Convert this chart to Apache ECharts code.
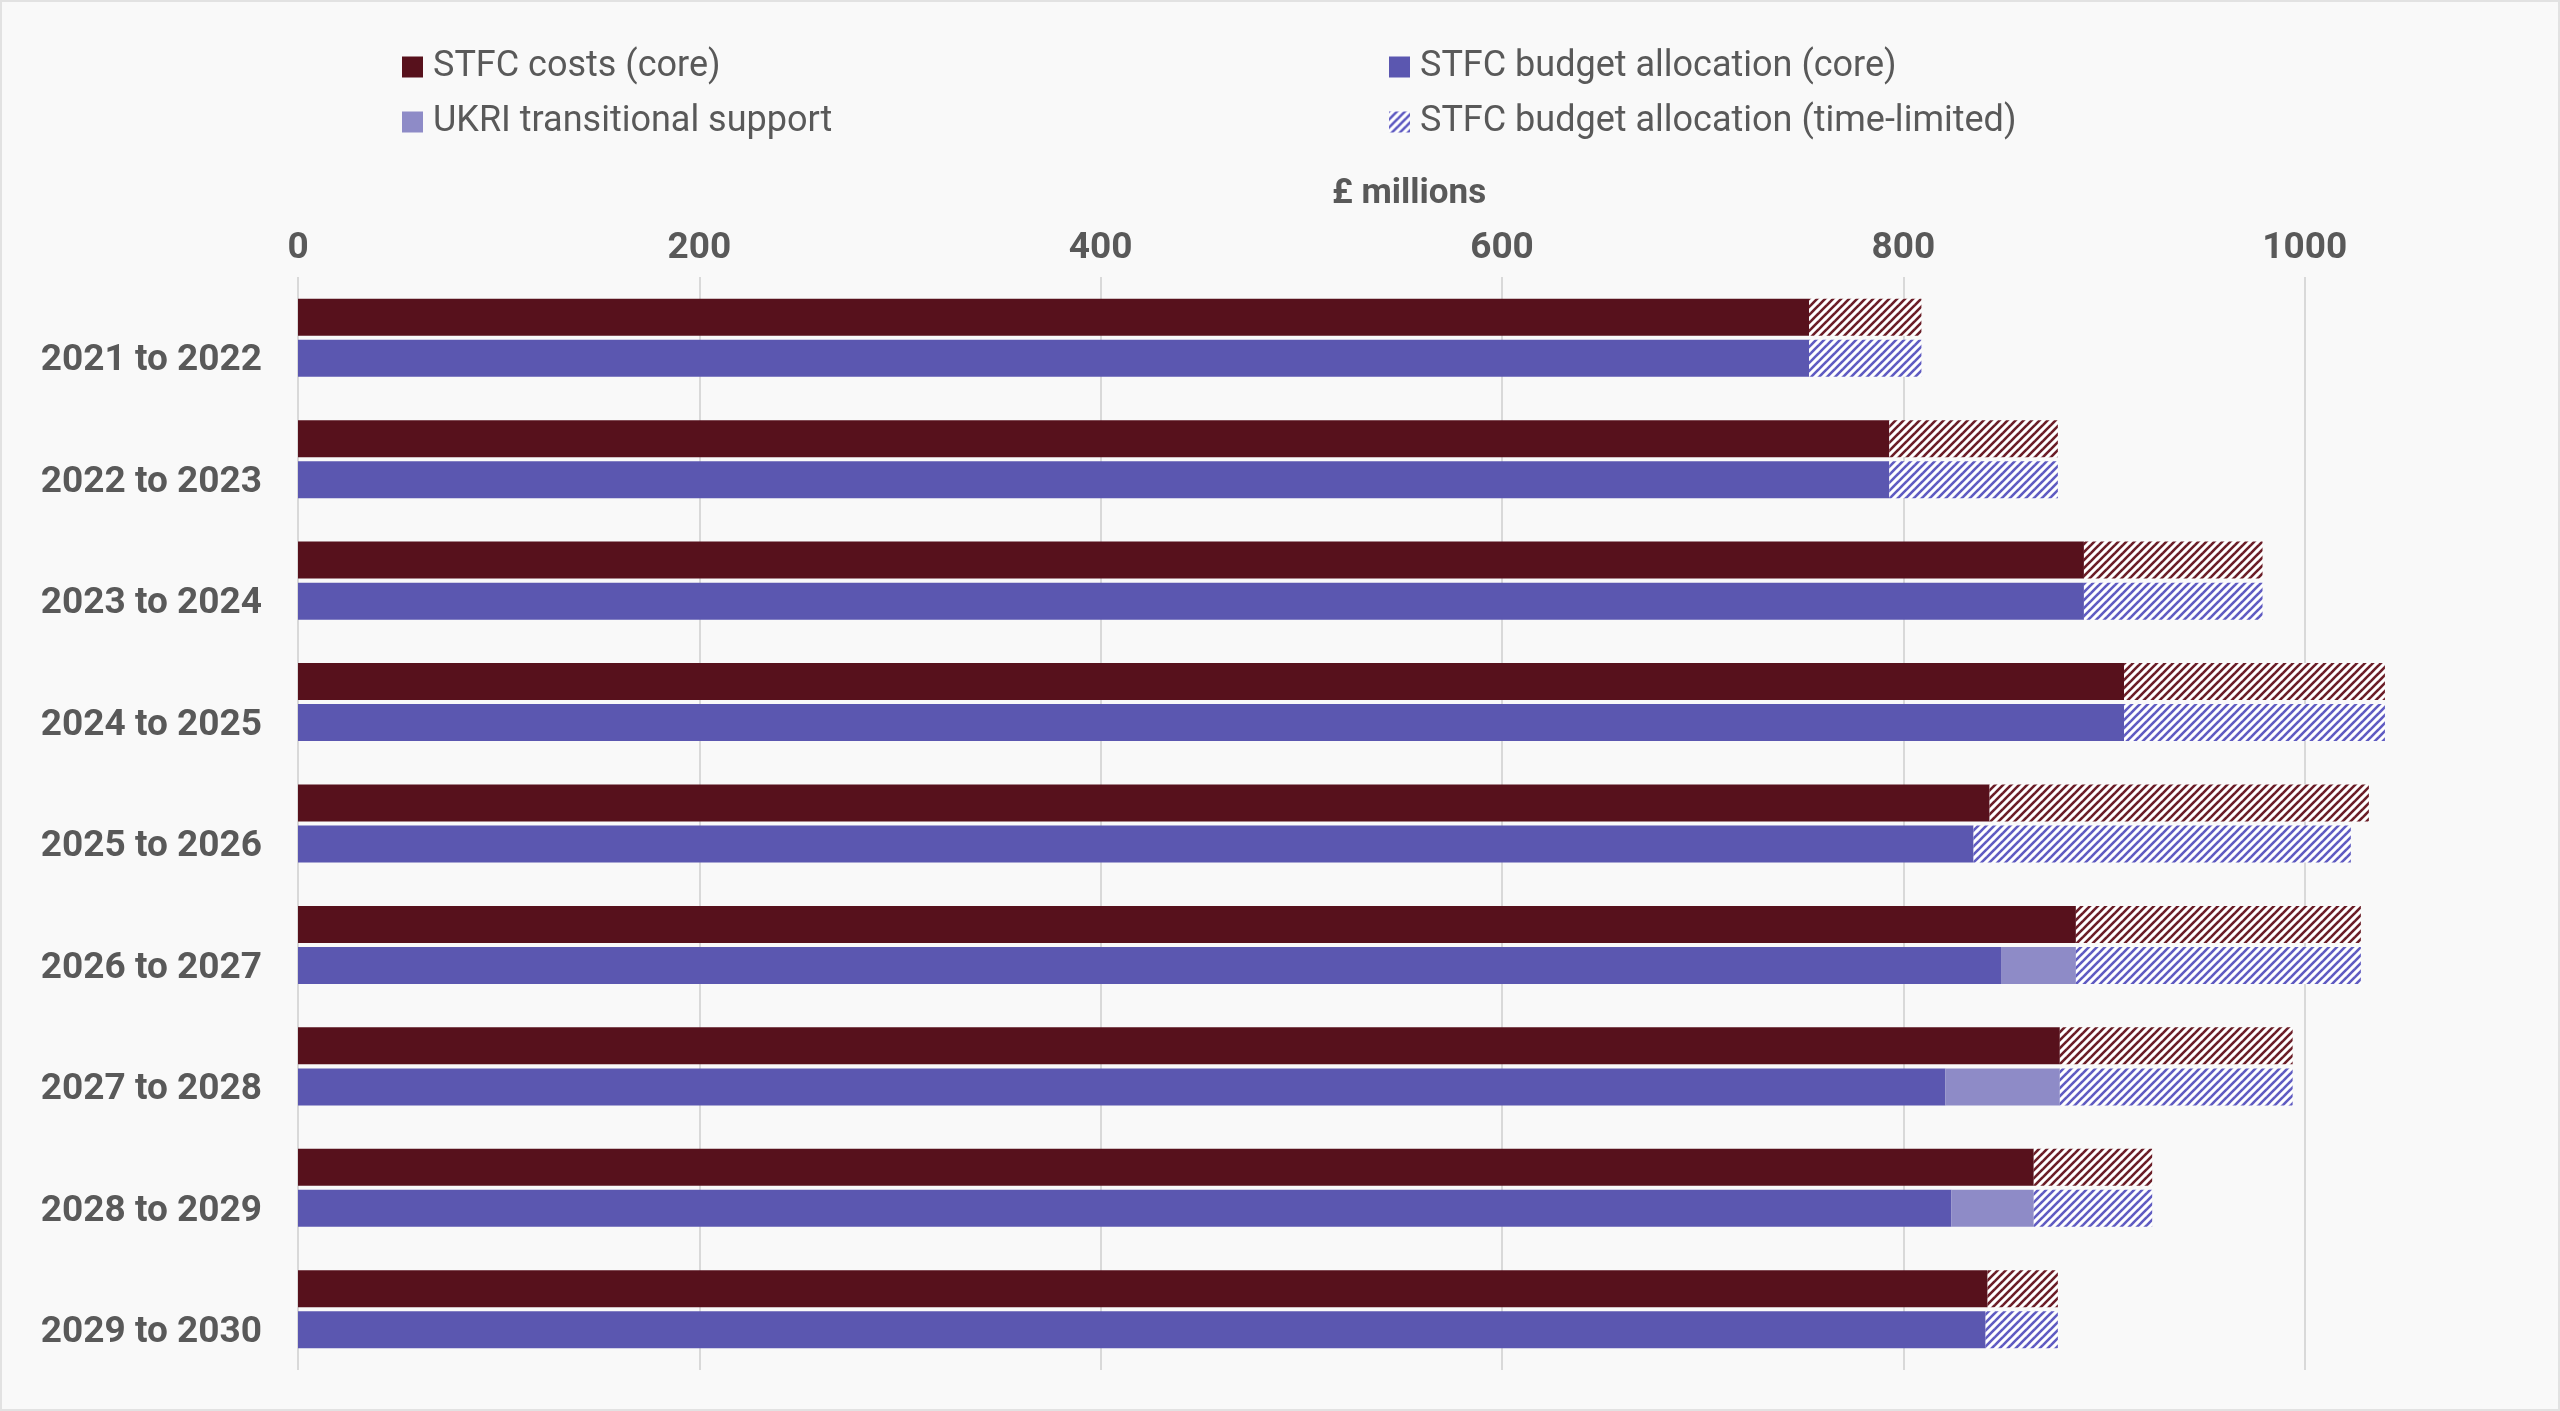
<!DOCTYPE html>
<html>
<head>
<meta charset="utf-8">
<script src="https://cdn.jsdelivr.net/npm/echarts@6/dist/echarts.min.js"></script>
<style>
  html, body {
    margin: 0;
    padding: 0;
    background: #f9f9f9;
  }
  .main-style {
    width: 2560px;
    height: 1411px;
    box-sizing: border-box;
    border: 2px solid #e2e2e2;
    background: #f9f9f9;
    overflow: hidden;
  }
  #chart {
    width: 100%;
    height: 100%;
  }
</style>
</head>
<body>
<div class="main-style">
  <div id="chart"></div>
</div>
<script>
// categories
const years = ['2021 to 2022', '2022 to 2023', '2023 to 2024', '2024 to 2025', '2025 to 2026',
  '2026 to 2027', '2027 to 2028', '2028 to 2029', '2029 to 2030']
// £ millions
const costsCore = [753, 793, 890, 910, 843, 886, 878, 865, 842]
const costsTimeLimited = [56, 84, 89, 130, 189, 142, 116, 59, 35]
const budgetCore = [753, 793, 890, 910, 835, 849, 821, 824, 841]
const ukriSupport = [0, 0, 0, 0, 0, 37, 57, 41, 0]
const budgetTimeLimited = [56, 84, 89, 130, 188, 142, 116, 59, 36]
const xTicks = [0, 200, 400, 600, 800, 1000]

const textColor = '#595959'

// diagonal hatch ( / ) as a repeating canvas
function hatch(lineColor) {
  const p = 8
  const c = document.createElement('canvas')
  c.width = p
  c.height = p
  const ctx = c.getContext('2d')
  ctx.fillStyle = '#ffffff'
  ctx.fillRect(0, 0, p, p)
  ctx.strokeStyle = lineColor
  ctx.lineWidth = 2.6
  for (let k = -p; k <= p; k += p) {
    ctx.beginPath()
    ctx.moveTo(k - 1, p + 1)
    ctx.lineTo(k + p + 1, -1)
    ctx.stroke()
  }
  return { image: c, repeat: 'repeat' }
}

const chart = echarts.init(document.getElementById('chart'))

// the 1200 tick sits past the right edge of the page, so only 0..1000 show
const step = xTicks[1] - xTicks[0]
const pxPerUnit = 2.007

const options = {
  backgroundColor: '#f9f9f9',
  animation: false,
  textStyle: {
    fontFamily: 'Roboto'
  },
  title: {
    text: '£ millions',
    left: 1402,
    top: 170,
    textAlign: 'center',
    textStyle: {
      fontFamily: 'Roboto',
      fontSize: 35,
      fontWeight: 'bold',
      color: textColor
    }
  },
  legend: [
    {
      orient: 'vertical',
      left: 395,
      top: 42,
      itemWidth: 21,
      itemHeight: 21,
      itemGap: 19,
      icon: 'rect',
      textStyle: {
        fontFamily: 'Roboto',
        fontSize: 36,
        lineHeight: 34,
        color: textColor,
        padding: [0, 0, 0, 5]
      },
      data: ['STFC costs (core)', 'UKRI transitional support']
    },
    {
      orient: 'vertical',
      left: 1382,
      top: 42,
      itemWidth: 21,
      itemHeight: 21,
      itemGap: 19,
      icon: 'rect',
      textStyle: {
        fontFamily: 'Roboto',
        fontSize: 36,
        lineHeight: 34,
        color: textColor,
        padding: [0, 0, 0, 5]
      },
      data: ['STFC budget allocation (core)', 'STFC budget allocation (time-limited)']
    }
  ],
  grid: {
    left: 296,
    top: 275,
    height: 1093,
    width: Math.round((xTicks[xTicks.length - 1] + step) * pxPerUnit),
    outerBoundsMode: 'none'
  },
  xAxis: {
    type: 'value',
    position: 'top',
    min: xTicks[0],
    max: xTicks[xTicks.length - 1] + step,
    interval: step,
    axisLine: { show: false },
    axisTick: { show: false },
    axisLabel: {
      margin: 10,
      fontFamily: 'Roboto',
      fontSize: 37,
      fontWeight: 'bold',
      color: textColor,
      formatter: (v) => String(v)
    },
    splitLine: {
      lineStyle: {
        color: '#d9d9d9',
        width: 2
      }
    }
  },
  yAxis: {
    type: 'category',
    inverse: true,
    data: years,
    axisLine: { show: false },
    axisTick: { show: false },
    axisLabel: {
      margin: 36,
      verticalAlign: 'top',
      padding: [5, 0, 0, 0],
      fontFamily: 'Roboto',
      fontSize: 37,
      fontWeight: 'bold',
      color: textColor
    }
  },
  series: [
    {
      name: 'STFC costs (core)',
      type: 'bar',
      stack: 'costs',
      barWidth: 37,
      barGap: '11%',
      itemStyle: { color: '#57111c' },
      data: costsCore
    },
    {
      name: 'STFC costs (time-limited)',
      type: 'bar',
      stack: 'costs',
      barWidth: 37,
      itemStyle: { color: hatch('#6b1d27') },
      data: costsTimeLimited
    },
    {
      name: 'STFC budget allocation (core)',
      type: 'bar',
      stack: 'budget',
      barWidth: 37,
      itemStyle: { color: '#5b57b0' },
      data: budgetCore
    },
    {
      name: 'UKRI transitional support',
      type: 'bar',
      stack: 'budget',
      barWidth: 37,
      itemStyle: { color: '#8e8bc7' },
      data: ukriSupport
    },
    {
      name: 'STFC budget allocation (time-limited)',
      type: 'bar',
      stack: 'budget',
      barWidth: 37,
      itemStyle: { color: hatch('#5f5bc2') },
      data: budgetTimeLimited
    }
  ]
}

chart.setOption(options)
</script>
</body>
</html>
